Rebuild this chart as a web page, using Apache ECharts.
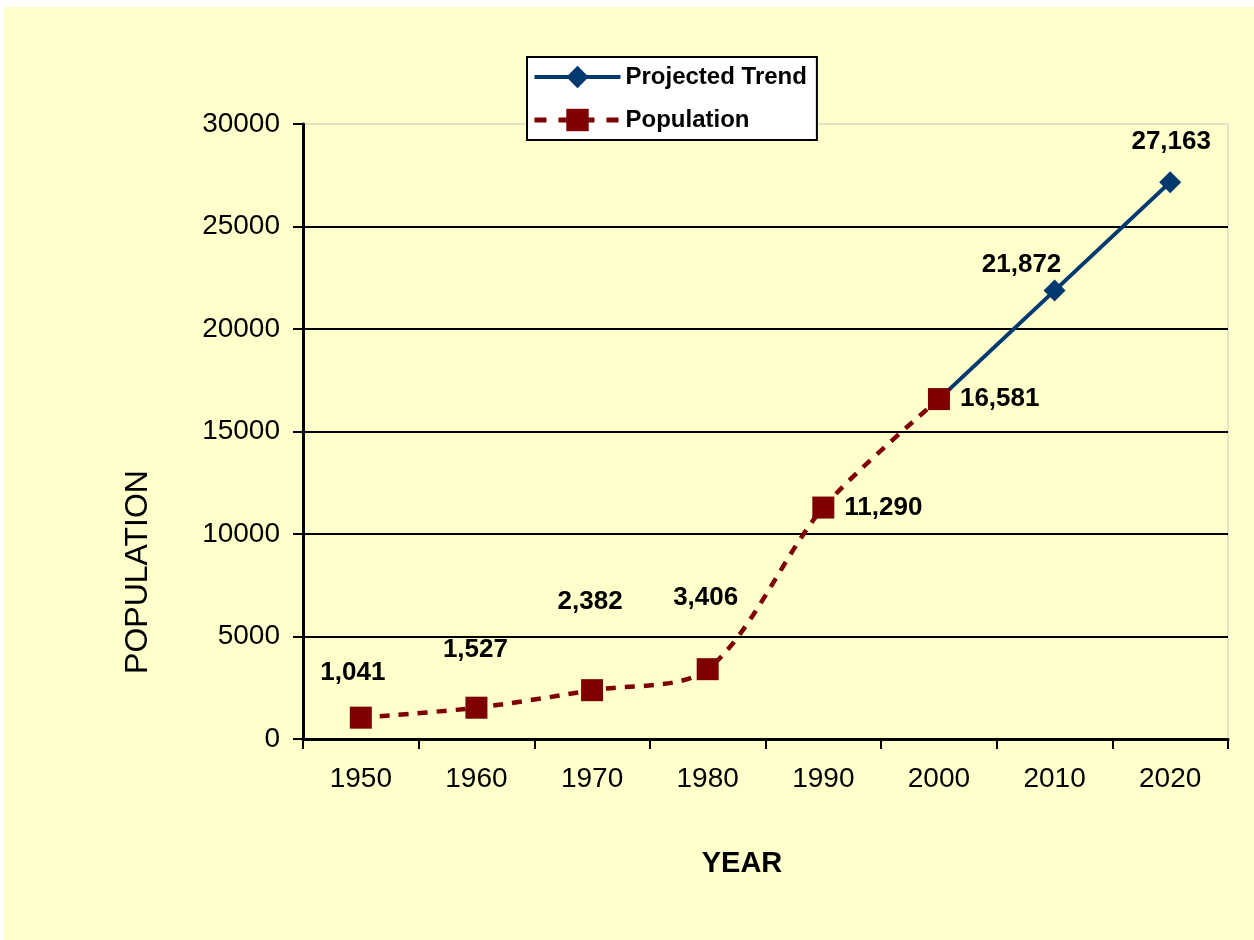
<!DOCTYPE html>
<html>
<head>
<meta charset="utf-8">
<title>Population and Projected Trend</title>
<script src="https://cdn.jsdelivr.net/npm/echarts@6/dist/echarts.min.js"></script>
<style>
  html, body { margin: 0; padding: 0; background: #ffffff; }
  #chart { position: absolute; left: 4px; top: 7px; width: 1250px; height: 933px; }
</style>
</head>
<body>
<div id="chart"></div>
<script>
// Census years and counts
const years = ['1950', '1960', '1970', '1980', '1990', '2000', '2010', '2020'];
const population = [1041, 1527, 2382, 3406, 11290, 16581, null, null];
const projectedTrend = [null, null, null, null, null, 16581, 21872, 27163];

// Where each value label sits relative to its marker
const popLabelPlace = [
  { position: 'inside', offset: [-8, -45] },
  { position: 'inside', offset: [-1, -58] },
  { position: 'inside', offset: [-2, -88] },
  { position: 'inside', offset: [-2, -71] },
  { position: 'right', distance: 10 },
  { position: 'right', distance: 10 },
  null, null
];
const trendLabelPlace = [
  null, null, null, null, null, null,
  { position: 'inside', offset: [-33, -26] },
  { position: 'inside', offset: [1, -40] }
];

const FONT = '"Liberation Sans", Arial, sans-serif';
const fmt = v => v.toLocaleString('en-US');

function withLabels(values, places) {
  return values.map((v, i) => {
    if (v == null) return null;
    const p = places[i];
    if (!p) return { value: v, label: { show: false } };
    return { value: v, label: Object.assign({ show: true }, p) };
  });
}

const labelStyle = {
  color: '#000',
  fontFamily: FONT,
  fontWeight: 'bold',
  fontSize: 26,
  formatter: p => fmt(p.value)
};

const TREND_COLOR = '#003870';
const POP_COLOR = '#7F0000';

const chart = echarts.init(document.getElementById('chart'), null, { renderer: 'canvas' });

chart.setOption({
  backgroundColor: '#FFFFCC',
  animation: false,
  textStyle: { fontFamily: FONT },
  grid: {
    left: 299, right: 26, top: 117, bottom: 201,
    show: true, borderColor: '#C8C8C8', borderWidth: 1,
    backgroundColor: 'transparent'
  },
  legend: {
    left: 523, top: 50,
    orient: 'vertical',
    backgroundColor: '#ffffff',
    borderColor: '#000',
    borderWidth: 2,
    padding: [8, 10, 8, 5],
    itemWidth: 86,
    itemHeight: 28,
    itemGap: 19,
    textStyle: { fontFamily: FONT, fontWeight: 'bold', fontSize: 24, color: '#000' },
    data: [
      {
        name: 'Projected Trend',
        itemStyle: { color: TREND_COLOR },
        lineStyle: { color: TREND_COLOR, width: 4 }
      },
      {
        name: 'Population',
        itemStyle: { color: POP_COLOR },
        lineStyle: { color: POP_COLOR, width: 5, type: [12, 12] }
      }
    ]
  },
  xAxis: {
    type: 'category',
    data: years,
    boundaryGap: true,
    axisLine: { lineStyle: { color: '#000', width: 3 } },
    axisTick: { show: true, interval: 0, length: 10, lineStyle: { color: '#000', width: 2 } },
    axisLabel: { interval: 0, margin: 26, color: '#000', fontFamily: FONT, fontSize: 28 },
    splitLine: { show: false }
  },
  yAxis: {
    type: 'value',
    min: 0, max: 30000, interval: 5000,
    axisLine: { show: true, lineStyle: { color: '#000', width: 3 } },
    axisTick: { show: true, length: 10, lineStyle: { color: '#000', width: 2 } },
    axisLabel: { margin: 23, color: '#000', fontFamily: FONT, fontSize: 28, formatter: v => String(v) },
    splitLine: { show: true, showMaxLine: false, lineStyle: { color: '#000', width: 2 } }
  },
  graphic: [
    {
      type: 'text',
      x: 134, y: 565,
      rotation: Math.PI / 2,
      style: {
        text: 'POPULATION',
        fill: '#000',
        font: '32px ' + FONT,
        align: 'center',
        verticalAlign: 'middle'
      }
    },
    {
      type: 'text',
      x: 738, y: 857,
      style: {
        text: 'YEAR',
        fill: '#000',
        font: 'bold 29px ' + FONT,
        align: 'center',
        verticalAlign: 'middle'
      }
    }
  ],
  series: [
    {
      name: 'Projected Trend',
      type: 'line',
      data: withLabels(projectedTrend, trendLabelPlace),
      symbol: 'diamond',
      symbolSize: 22,
      showAllSymbol: true,
      connectNulls: false,
      itemStyle: { color: TREND_COLOR },
      lineStyle: { color: TREND_COLOR, width: 4 },
      label: labelStyle,
      z: 2
    },
    {
      name: 'Population',
      type: 'line',
      data: withLabels(population, popLabelPlace),
      smooth: 0.3,
      symbol: 'rect',
      symbolSize: 22,
      showAllSymbol: true,
      connectNulls: false,
      itemStyle: { color: POP_COLOR },
      lineStyle: { color: POP_COLOR, width: 4.5, type: [10, 9] },
      label: labelStyle,
      z: 3
    }
  ]
});
</script>
</body>
</html>
